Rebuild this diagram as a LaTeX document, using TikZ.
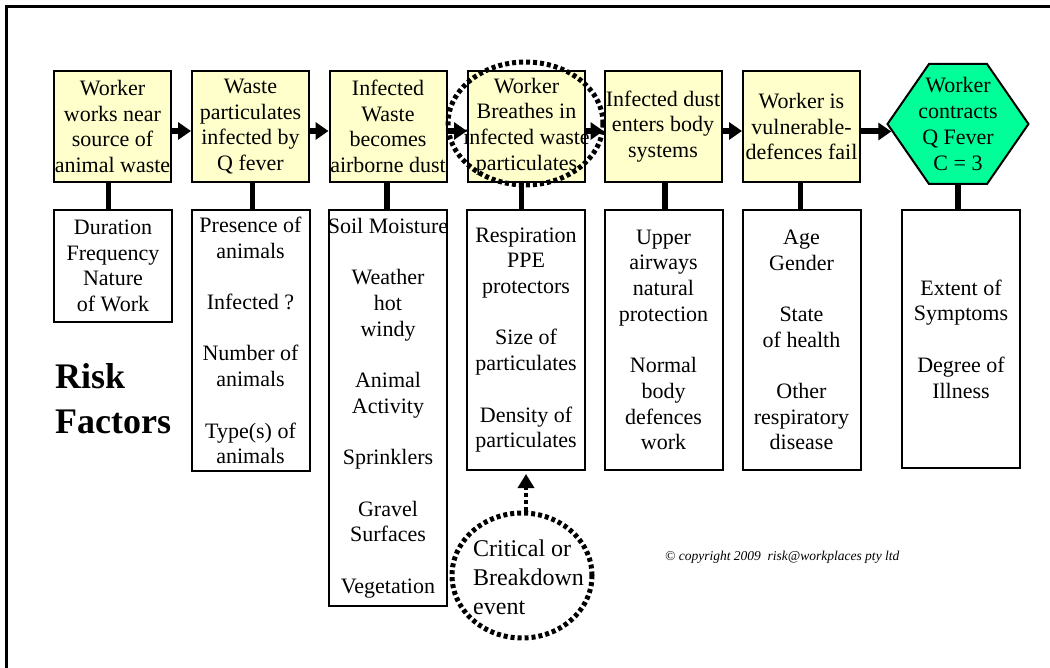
\documentclass[tikz,border=0pt]{standalone}
\usepackage{fontspec}
\setmainfont{Liberation Serif}
\usetikzlibrary{arrows.meta,shapes.geometric,calc}
\definecolor{paleyellow}{RGB}{255,255,204}
\definecolor{mint}{RGB}{0,255,153}

\begin{document}
\begin{tikzpicture}[x=1pt,y=-1pt,
  every node/.style={font=\fontsize{22}{25.7}\selectfont},
  stage/.style={draw=black, line width=2pt, fill=paleyellow,
    minimum width=117pt, minimum height=111pt,
    inner xsep=-6pt, inner ysep=0pt, align=center},
  factor/.style={draw=black, line width=2pt, fill=white,
    minimum width=118pt, inner xsep=-6pt, inner ysep=0pt, align=center},
  flow/.style={line width=6pt, -{Triangle[length=13pt,width=17pt]}},
  stem/.style={line width=5.5pt},
  dotring/.style={draw, ellipse, line width=5pt, dash pattern=on 4pt off 3pt,
    inner sep=0pt},
  dotflow/.style={line width=4.5pt, dash pattern=on 4pt off 3pt,
    -{Triangle[length=14pt,width=16pt]}, shorten >=3pt},
]
\useasboundingbox (0,0) rectangle (1050,668);

% frame (top and left edges)
\draw[line width=3pt] (1053,7) -- (6,7) -- (6,671);

% chain of events
\node[stage] (t1) at (112.5,126.5) {Worker\\works near\\source of\\animal waste};
\node[stage] (t2) at (250.5,126.5) {Waste\\particulates\\infected by\\Q fever};
\node[stage] (t3) at (388,126.5) {Infected\\Waste\\becomes\\airborne dust};
\node[stage] (t4) at (526.5,126.5) {Worker\\Breathes in\\infected waste\\particulates};
\node[stage] (t5) at (663,126.5) {Infected dust\\enters body\\systems};
\node[stage] (t6) at (801.5,126.5) {Worker is\\vulnerable-\\defences fail};

% outcome hexagon
\coordinate (hexc) at (958,124);
\draw[line width=2pt, fill=mint]
  ($(hexc)+(-70.5,0)$) -- ++(41.5,-60) -- ++(58,0) -- ($(hexc)+(70.5,0)$)
  -- ++(-41.5,60) -- ++(-58,0) -- cycle;
\node[minimum width=141pt, minimum height=120pt, inner sep=0pt, align=center]
  (hex) at (hexc) {Worker\\contracts\\Q Fever\\C = 3};

% flow arrows
\draw[flow] ([yshift=-4.5pt]t1.east) -- ([yshift=-4.5pt]t2.west);
\draw[flow] ([yshift=-4.5pt]t2.east) -- ([yshift=-4.5pt]t3.west);
\draw[flow] ([yshift=-4.5pt]t3.east) -- ([yshift=-4.5pt]t4.west);
\draw[flow] ([yshift=-4.5pt]t4.east) -- ([yshift=-4.5pt]t5.west);
\draw[flow] ([yshift=-4.5pt]t5.east) -- ([yshift=-4.5pt]t6.west);
\draw[flow] ([yshift=-5pt]t6.east) -- ($([yshift=-5pt]t6.east -| hex.west)+(4,0)$);

% risk factor boxes
\node[factor, minimum height=112pt] (b1) at (113,266)
  {Duration\\Frequency\\Nature\\of Work};
\node[factor, minimum height=261pt] (b2) at (250.5,340.5)
  {Presence of\\animals\\[25.7pt]Infected ?\\[25.7pt]Number of\\animals\\[25.7pt]Type(s) of\\animals};
\node[factor, minimum height=396pt] (b3) at (388,408)
  {Soil Moisture\\[25.7pt]Weather\\hot\\windy\\[25.7pt]Animal\\Activity\\[25.7pt]Sprinklers\\[25.7pt]Gravel\\Surfaces\\[25.7pt]Vegetation};
\node[factor, minimum height=260pt] (b4) at (526,340)
  {Respiration\\PPE\\protectors\\[25.7pt]Size of\\particulates\\[25.7pt]Density of\\particulates};
\node[factor, minimum height=260pt] (b5) at (663.5,340)
  {Upper\\airways\\natural\\protection\\[25.7pt]Normal\\body\\defences\\work};
\node[factor, minimum height=260pt] (b6) at (801.5,340)
  {Age\\Gender\\[25.7pt]State\\of health\\[25.7pt]Other\\respiratory\\disease};
\node[factor, minimum height=258pt] (b7) at (961,339)
  {Extent of\\Symptoms\\[25.7pt]Degree of\\Illness};

% stems from events to their factors
\draw[stem] ([xshift=-4pt]t1.south) -- ([xshift=-4pt]t1.south |- b1.north);
\draw[stem] ([xshift=2pt]t2.south) -- ([xshift=2pt]t2.south |- b2.north);
\draw[stem] ([xshift=-1pt]t3.south) -- ([xshift=-1pt]t3.south |- b3.north);
\draw[stem] ([xshift=-5pt]t4.south) -- ([xshift=-5pt]t4.south |- b4.north);
\draw[stem] ([xshift=2pt]t5.south) -- ([xshift=2pt]t5.south |- b5.north);
\draw[stem] ([xshift=-1pt]t6.south) -- ([xshift=-1pt]t6.south |- b6.north);
\draw[stem] (hex.south) -- (hex.south |- b7.north);

% critical event markers
\node[dotring, minimum width=155pt, minimum height=123pt] (focus) at (525.5,123.5) {};
\node[dotring, minimum width=140pt, minimum height=125pt] (crit) at (522,575.5) {};
\node[align=left, anchor=west, inner sep=0pt, font=\fontsize{24}{29}\selectfont]
  (critlabel) at (473,577) {Critical or\\Breakdown\\event};
\draw[dotflow] (crit.north -| b4.south) -- (b4.south);

% labels
\node[font=\fontsize{36}{45}\selectfont\bfseries, align=left, anchor=north west,
  inner sep=0pt] (risk) at (55,363) {Risk\\Factors};
\node[font=\fontsize{13.5}{16}\selectfont\itshape, anchor=west, inner sep=0pt]
  (copy) at (665,557) {\textcopyright{} copyright 2009\ \ risk@workplaces pty ltd};
\end{tikzpicture}
\end{document}
